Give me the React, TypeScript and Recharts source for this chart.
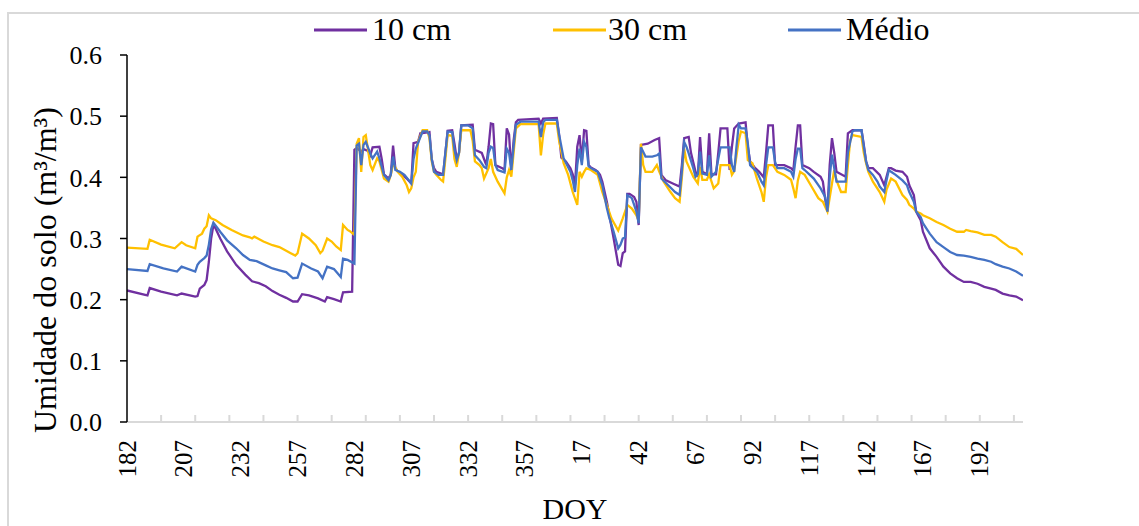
import React from 'react';
import { LineChart, Line, XAxis, YAxis, Legend } from 'recharts';

const FONT = '"Liberation Serif", "Times New Roman", serif';

// Day index 0 = DOY 182 (first year) ... index 394 = DOY 211 (next year)
const lastDay = 394;
const tickLabels = ['182', '207', '232', '257', '282', '307', '332', '357', '17', '42', '67', '92', '117', '142', '167', '192'];
const labelStep = 25;
const markStep = 15;
const yTicks = [0, 0.1, 0.2, 0.3, 0.4, 0.5, 0.6];

const seriesNames = ['10 cm', '30 cm', 'Médio'];
const seriesColors = ['#7030A0', '#FFC000', '#4472C4'];

// [day index, soil moisture]
const s10cm: [number, number][] = [
  [0, 0.215], [8, 0.208], [9, 0.207], [10, 0.219], [15, 0.213], [22, 0.207], [24, 0.21], [30, 0.205], [31, 0.206],
  [32, 0.218], [34, 0.224], [35, 0.232], [36, 0.262], [37, 0.3], [38, 0.322], [39, 0.316], [41, 0.3], [44, 0.279],
  [48, 0.257], [52, 0.241], [55, 0.23], [58, 0.227], [61, 0.222], [64, 0.214], [67, 0.208], [70, 0.203], [73, 0.197],
  [75, 0.197], [77, 0.209], [80, 0.207], [84, 0.202], [87, 0.197], [88, 0.204], [91, 0.201], [94, 0.197], [95, 0.212],
  [99, 0.213], [100, 0.445], [101, 0.448], [103, 0.442], [104, 0.446], [106, 0.443], [107, 0.436], [108, 0.449],
  [111, 0.45], [112, 0.43], [113, 0.405], [115, 0.398], [116, 0.405], [117, 0.452], [118, 0.415], [119, 0.41],
  [121, 0.405], [123, 0.398], [124, 0.394], [125, 0.39], [126, 0.456], [128, 0.458], [129, 0.472], [133, 0.474],
  [134, 0.43], [135, 0.415], [136, 0.409], [139, 0.405], [140, 0.44], [141, 0.476], [143, 0.477], [144, 0.455],
  [145, 0.43], [146, 0.44], [147, 0.485], [152, 0.486], [153, 0.445], [156, 0.44], [157, 0.43], [158, 0.42],
  [159, 0.45], [160, 0.488], [161, 0.487], [162, 0.42], [165, 0.415], [166, 0.412], [167, 0.48], [168, 0.47],
  [169, 0.41], [170, 0.46], [171, 0.49], [172, 0.494], [181, 0.496], [182, 0.488], [183, 0.496], [189, 0.497],
  [190, 0.47], [191, 0.432], [193, 0.426], [195, 0.415], [196, 0.405], [197, 0.387], [198, 0.45], [199, 0.469],
  [200, 0.426], [201, 0.477], [202, 0.476], [203, 0.42], [204, 0.416], [206, 0.412], [207, 0.409], [208, 0.404],
  [209, 0.393], [211, 0.36], [212, 0.34], [214, 0.3], [216, 0.257], [217, 0.255], [218, 0.276], [219, 0.279],
  [220, 0.373], [221, 0.373], [223, 0.368], [224, 0.36], [225, 0.322], [226, 0.453], [229, 0.455], [232, 0.461],
  [234, 0.464], [235, 0.404], [237, 0.395], [240, 0.39], [243, 0.385], [244, 0.42], [245, 0.464], [247, 0.466],
  [248, 0.44], [250, 0.409], [251, 0.401], [252, 0.466], [253, 0.409], [255, 0.405], [256, 0.472], [257, 0.405],
  [259, 0.405], [260, 0.44], [261, 0.48], [264, 0.48], [265, 0.412], [266, 0.45], [267, 0.48], [269, 0.488],
  [272, 0.49], [273, 0.45], [274, 0.426], [276, 0.416], [278, 0.409], [280, 0.4], [281, 0.44], [282, 0.485],
  [284, 0.485], [285, 0.42], [289, 0.42], [292, 0.415], [293, 0.411], [294, 0.45], [295, 0.485], [296, 0.485],
  [297, 0.42], [300, 0.415], [302, 0.409], [305, 0.401], [306, 0.393], [307, 0.365], [308, 0.344], [309, 0.42],
  [310, 0.464], [311, 0.44], [312, 0.409], [316, 0.401], [317, 0.472], [319, 0.477], [323, 0.477], [324, 0.453],
  [325, 0.426], [326, 0.415], [328, 0.415], [331, 0.404], [333, 0.387], [335, 0.415], [336, 0.415], [338, 0.411],
  [341, 0.409], [343, 0.401], [344, 0.387], [346, 0.371], [347, 0.344], [349, 0.33], [350, 0.311], [353, 0.284],
  [356, 0.27], [359, 0.254], [362, 0.243], [365, 0.235], [368, 0.229], [371, 0.229], [374, 0.226], [377, 0.221],
  [380, 0.218], [382, 0.216], [385, 0.21], [388, 0.207], [391, 0.205], [394, 0.199],
];

const s30cm: [number, number][] = [
  [0, 0.285], [9, 0.283], [10, 0.298], [15, 0.29], [21, 0.284], [24, 0.294], [26, 0.289], [30, 0.284], [31, 0.303],
  [33, 0.308], [34, 0.316], [35, 0.32], [36, 0.338], [37, 0.333], [39, 0.33], [42, 0.322], [46, 0.314], [51, 0.305],
  [54, 0.302], [55, 0.3], [56, 0.303], [60, 0.295], [64, 0.289], [67, 0.286], [68, 0.284], [72, 0.276], [74, 0.272],
  [75, 0.276], [77, 0.308], [80, 0.3], [83, 0.289], [85, 0.276], [86, 0.28], [88, 0.3], [90, 0.295], [92, 0.287],
  [94, 0.281], [95, 0.322], [97, 0.314], [98, 0.312], [100, 0.306], [101, 0.455], [102, 0.464], [103, 0.409],
  [104, 0.466], [105, 0.469], [107, 0.42], [108, 0.412], [110, 0.431], [111, 0.426], [113, 0.398], [115, 0.393],
  [116, 0.404], [117, 0.423], [119, 0.409], [121, 0.401], [123, 0.387], [124, 0.376], [125, 0.382], [126, 0.4],
  [127, 0.409], [128, 0.458], [130, 0.477], [132, 0.477], [133, 0.464], [134, 0.426], [135, 0.409], [136, 0.404],
  [138, 0.396], [139, 0.393], [140, 0.43], [141, 0.469], [143, 0.468], [144, 0.43], [145, 0.417], [146, 0.44],
  [147, 0.477], [151, 0.477], [152, 0.46], [153, 0.426], [155, 0.42], [156, 0.415], [157, 0.398], [159, 0.415],
  [160, 0.43], [161, 0.409], [163, 0.393], [166, 0.374], [167, 0.4], [168, 0.412], [169, 0.401], [170, 0.44],
  [171, 0.48], [173, 0.487], [181, 0.487], [182, 0.436], [183, 0.47], [184, 0.488], [189, 0.488], [190, 0.46],
  [192, 0.423], [194, 0.404], [196, 0.376], [198, 0.355], [199, 0.409], [200, 0.401], [201, 0.409], [202, 0.415],
  [204, 0.412], [207, 0.404], [209, 0.376], [211, 0.355], [213, 0.333], [216, 0.313], [218, 0.333], [220, 0.355],
  [222, 0.349], [224, 0.338], [225, 0.329], [226, 0.455], [227, 0.42], [228, 0.409], [231, 0.409], [233, 0.42],
  [234, 0.41], [236, 0.393], [239, 0.376], [241, 0.366], [243, 0.36], [244, 0.4], [245, 0.447], [246, 0.426],
  [249, 0.401], [251, 0.39], [252, 0.417], [253, 0.396], [255, 0.396], [256, 0.405], [258, 0.382], [260, 0.39],
  [261, 0.42], [265, 0.42], [266, 0.404], [267, 0.41], [269, 0.46], [270, 0.475], [272, 0.472], [273, 0.428],
  [275, 0.423], [277, 0.398], [279, 0.376], [280, 0.36], [281, 0.4], [282, 0.42], [284, 0.42], [286, 0.409],
  [289, 0.404], [292, 0.396], [293, 0.382], [294, 0.366], [295, 0.395], [296, 0.409], [298, 0.404], [301, 0.385],
  [304, 0.366], [306, 0.36], [308, 0.344], [310, 0.39], [311, 0.412], [312, 0.395], [314, 0.376], [316, 0.376],
  [317, 0.42], [318, 0.46], [319, 0.469], [323, 0.466], [324, 0.44], [325, 0.423], [326, 0.409], [328, 0.393],
  [331, 0.376], [333, 0.36], [334, 0.38], [336, 0.398], [338, 0.393], [341, 0.371], [343, 0.363], [344, 0.355],
  [346, 0.349], [347, 0.344], [349, 0.341], [350, 0.338], [353, 0.333], [356, 0.327], [359, 0.322], [362, 0.316],
  [365, 0.311], [368, 0.311], [369, 0.314], [371, 0.312], [374, 0.31], [377, 0.306], [380, 0.306], [382, 0.303],
  [385, 0.294], [388, 0.286], [391, 0.283], [394, 0.273],
];

const sMedio: [number, number][] = [
  [0, 0.25], [9, 0.247], [10, 0.258], [16, 0.251], [22, 0.246], [24, 0.254], [30, 0.246], [31, 0.257], [32, 0.262],
  [34, 0.268], [35, 0.272], [36, 0.29], [37, 0.315], [38, 0.326], [41, 0.311], [44, 0.297], [48, 0.284], [51, 0.273],
  [54, 0.265], [57, 0.263], [61, 0.256], [64, 0.251], [67, 0.248], [70, 0.245], [73, 0.235], [75, 0.236], [77, 0.259],
  [81, 0.251], [84, 0.246], [86, 0.235], [88, 0.254], [91, 0.25], [94, 0.237], [95, 0.267], [97, 0.265], [100, 0.259],
  [101, 0.452], [102, 0.455], [103, 0.42], [104, 0.453], [105, 0.458], [107, 0.439], [108, 0.431], [110, 0.442],
  [111, 0.431], [113, 0.404], [115, 0.395], [116, 0.404], [117, 0.434], [118, 0.412], [120, 0.409], [122, 0.404],
  [124, 0.395], [125, 0.39], [126, 0.43], [127, 0.447], [129, 0.466], [130, 0.475], [132, 0.475], [133, 0.469],
  [134, 0.43], [135, 0.409], [137, 0.404], [139, 0.404], [140, 0.44], [141, 0.475], [143, 0.474], [144, 0.445],
  [145, 0.428], [146, 0.44], [147, 0.485], [150, 0.485], [152, 0.48], [153, 0.436], [155, 0.428], [157, 0.417],
  [158, 0.415], [159, 0.44], [160, 0.45], [161, 0.448], [162, 0.42], [163, 0.412], [166, 0.408], [167, 0.447],
  [168, 0.44], [169, 0.412], [170, 0.45], [171, 0.486], [173, 0.491], [181, 0.491], [182, 0.466], [183, 0.49],
  [184, 0.494], [189, 0.494], [190, 0.47], [192, 0.431], [195, 0.409], [196, 0.395], [197, 0.376], [198, 0.42],
  [199, 0.447], [200, 0.42], [201, 0.458], [202, 0.45], [203, 0.418], [204, 0.415], [207, 0.409], [209, 0.387],
  [211, 0.35], [212, 0.335], [214, 0.311], [216, 0.284], [217, 0.29], [218, 0.3], [219, 0.302], [220, 0.371],
  [222, 0.366], [224, 0.344], [225, 0.325], [226, 0.449], [228, 0.434], [231, 0.434], [233, 0.436], [234, 0.439],
  [235, 0.398], [238, 0.387], [241, 0.376], [243, 0.371], [244, 0.41], [245, 0.458], [246, 0.45], [247, 0.439],
  [249, 0.415], [250, 0.401], [251, 0.405], [252, 0.442], [253, 0.406], [255, 0.404], [256, 0.436], [257, 0.401],
  [259, 0.409], [260, 0.43], [261, 0.449], [265, 0.449], [266, 0.42], [267, 0.409], [268, 0.45], [269, 0.486],
  [270, 0.48], [272, 0.48], [273, 0.455], [274, 0.42], [277, 0.409], [279, 0.393], [280, 0.387], [281, 0.42],
  [282, 0.449], [284, 0.449], [285, 0.425], [286, 0.415], [289, 0.415], [292, 0.409], [293, 0.401], [294, 0.43],
  [295, 0.447], [296, 0.447], [297, 0.415], [298, 0.412], [302, 0.398], [305, 0.382], [307, 0.368], [308, 0.344],
  [309, 0.4], [310, 0.437], [311, 0.415], [312, 0.393], [316, 0.393], [317, 0.44], [319, 0.475], [320, 0.477],
  [323, 0.477], [324, 0.45], [325, 0.426], [326, 0.412], [328, 0.404], [330, 0.393], [331, 0.385], [333, 0.376],
  [334, 0.395], [335, 0.412], [336, 0.409], [338, 0.404], [341, 0.395], [343, 0.387], [344, 0.376], [346, 0.36],
  [347, 0.344], [349, 0.335], [350, 0.325], [353, 0.308], [356, 0.294], [359, 0.286], [362, 0.278], [365, 0.273],
  [368, 0.272], [371, 0.27], [374, 0.267], [377, 0.265], [380, 0.262], [382, 0.258], [385, 0.254], [388, 0.251],
  [391, 0.246], [394, 0.239],
];

const seriesPoints = [s10cm, s30cm, sMedio];
const toRows = (pts: [number, number][]) => pts.map(([d, v]) => ({ d, v }));

// axis tick positions: labels every 25 days, tick marks every 15 days
const xTicks: number[] = Array.from(
  new Set<number>([
    ...tickLabels.map((_, i) => i * labelStep),
    ...Array.from({ length: Math.floor(lastDay / markStep) + 1 }, (_, i) => i * markStep),
  ])
).sort((a, b) => a - b);

const PLOT_BOTTOM = 422;

const XTick = (props: any) => {
  const { x, payload } = props;
  const d: number = payload.value;
  const hasMark = d % markStep === 0;
  const li = d % labelStep === 0 ? d / labelStep : -1;
  const ly = 440;
  return (
    <g>
      {hasMark && d !== 0 && (
        <line x1={x} x2={x} y1={PLOT_BOTTOM} y2={PLOT_BOTTOM - 7} stroke="#d9d9d9" strokeWidth={2} />
      )}
      {li >= 0 && li < tickLabels.length && (
        <text
          x={x}
          y={ly}
          dy="0.34em"
          transform={`rotate(-90, ${x}, ${ly})`}
          textAnchor="end"
          fontSize={25}
          fontFamily={FONT}
          fill="#000"
        >
          {tickLabels[li]}
        </text>
      )}
    </g>
  );
};

const YTitle = () => (
  <text
    x={56}
    y={433}
    transform="rotate(-90, 56, 433)"
    textAnchor="start"
    fontSize={32}
    fontFamily={FONT}
    fill="#000"
  >
    Umidade do solo (m³/m³)
  </text>
);

const XTitle = () => (
  <text x={575} y={519} textAnchor="middle" fontSize={30} fontFamily={FONT} fill="#000">
    DOY
  </text>
);

const legendLineX = [314, 553, 788];
const legendTextX = [372, 608, 846];

const LegendBox = () => (
  <svg width={1139} height={50}>
    {seriesNames.map((n, i) => (
      <g key={n}>
        <line x1={legendLineX[i]} x2={legendLineX[i] + 53} y1={30} y2={30} stroke={seriesColors[i]} strokeWidth={3} />
        <text x={legendTextX[i]} y={40} fontSize={32} fontFamily={FONT} fill="#000">
          {n}
        </text>
      </g>
    ))}
  </svg>
);

export default function App() {
  return (
    <div style={{ position: 'fixed', left: 0, top: 0, width: 1139, height: 526, overflow: 'hidden', background: '#fff' }}>
      <div
        style={{
          position: 'absolute',
          left: 7,
          top: 12,
          width: 1200,
          height: 600,
          border: '2px solid #d9d9d9',
          boxSizing: 'border-box',
        }}
      />
      <div style={{ position: 'absolute', left: 0, top: 0 }}>
        <LineChart width={1139} height={526} margin={{ top: 55, right: 116, bottom: 44, left: 47 }}>
          <XAxis
            type="number"
            dataKey="d"
            domain={[0, lastDay]}
            ticks={xTicks}
            interval={0}
            tick={<XTick />}
            tickLine={false}
            axisLine={{ stroke: '#d9d9d9', strokeWidth: 2 }}
            height={60}
            allowDataOverflow
            label={<XTitle />}
          />
          <YAxis
            type="number"
            domain={[0, 0.6]}
            ticks={yTicks}
            interval={0}
            tickFormatter={(v: number) => v.toFixed(1)}
            axisLine={{ stroke: '#000', strokeWidth: 1.5 }}
            tickLine={{ stroke: '#000', strokeWidth: 1.5 }}
            tickSize={7}
            tickMargin={18}
            tick={{ fill: '#000', fontSize: 26, fontFamily: FONT }}
            width={80}
            label={<YTitle />}
          />
          <Legend
            layout="horizontal"
            verticalAlign="middle"
            align="center"
            content={<LegendBox />}
            wrapperStyle={{ position: 'absolute', top: 0, left: 0, width: 1139, height: 50 }}
          />
          {seriesPoints.map((pts, i) => (
            <Line
              key={seriesNames[i]}
              data={toRows(pts)}
              dataKey="v"
              name={seriesNames[i]}
              type="linear"
              stroke={seriesColors[i]}
              strokeWidth={2.3}
              dot={false}
              activeDot={false}
              isAnimationActive={false}
            />
          ))}
        </LineChart>
      </div>
    </div>
  );
}
